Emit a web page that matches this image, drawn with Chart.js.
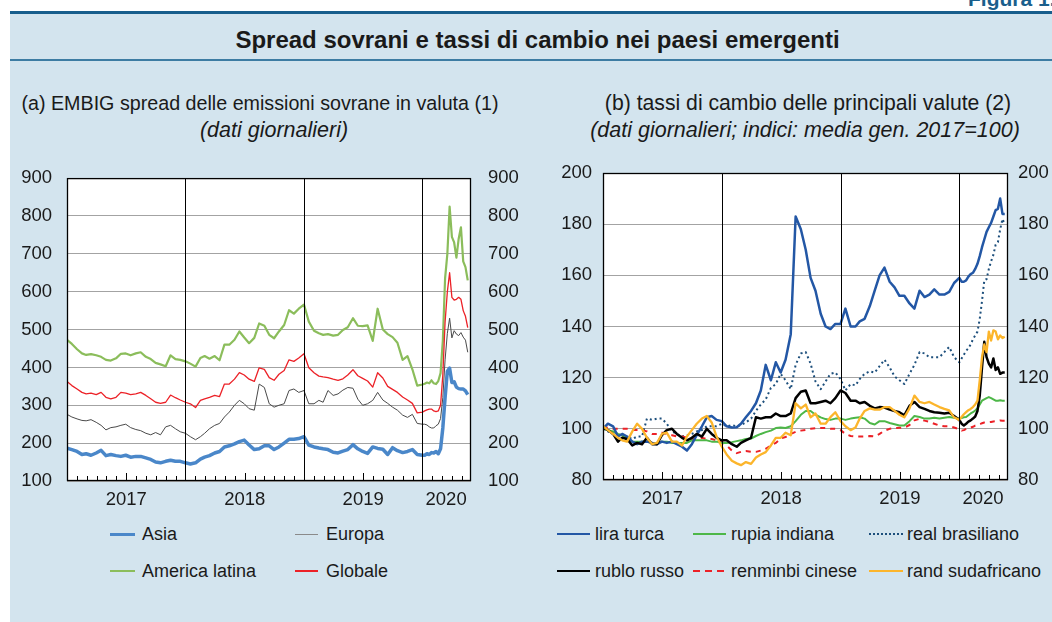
<!DOCTYPE html>
<html>
<head>
<meta charset="utf-8">
<script src="https://cdn.jsdelivr.net/npm/chart.js@4.4.1/dist/chart.umd.min.js"></script>
<style>
  body { margin: 0; width: 1052px; height: 622px; overflow: hidden; position: relative; background: #fff;
         font-family: 'Liberation Sans', Arial, sans-serif; color: #1a1a1a; }
  .abs { position: absolute; }
  #bg { left: 10px; top: 13px; width: 1042px; height: 609px; background: #d3e4ee; }
  #topline { left: 10px; top: 11px; width: 1042px; height: 2.5px; background: #175e8c; }
  #tline { left: 10px; top: 59px; width: 1042px; height: 2px; background: #3d7ca3; }
  #fig { left: 968px; top: -13px; font-weight: bold; font-size: 21px; color: #1b5f8c; white-space: nowrap; }
  #title { left: 0; width: 1075px; top: 27px; text-align: center; font-weight: bold; font-size: 24px; line-height: 26px; }
  .sub { line-height: 22px; text-align: center; white-space: nowrap; }
  .it { font-style: italic; }
  canvas { position: absolute; }
  .leg { position: absolute; height: 22px; display: flex; align-items: center; font-size: 18px; white-space: nowrap; }
  .leg i { display: inline-block; }
</style>
</head>
<body>
<div id="bg" class="abs"></div>
<div id="topline" class="abs"></div>
<div id="fig" class="abs">Figura 1.</div>
<div id="title" class="abs">Spread sovrani e tassi di cambio nei paesi emergenti</div>
<div id="tline" class="abs"></div>

<div class="abs sub" style="left:0;width:520px;top:92px;font-size:19.7px">(a) EMBIG spread delle emissioni sovrane in valuta (1)</div>
<div class="abs sub it" style="left:0;width:548px;top:119px;font-size:21.5px">(dati giornalieri)</div>
<div class="abs sub" style="left:508px;width:600px;top:92px;font-size:21.2px">(b) tassi di cambio delle principali valute (2)</div>
<div class="abs sub it" style="left:505px;width:600px;top:119px;font-size:21.5px">(dati giornalieri; indici: media gen. 2017=100)</div>

<canvas id="chartA" width="530" height="370" style="left:0;top:150px"></canvas>
<canvas id="chartB" width="522" height="370" style="left:530px;top:150px"></canvas>

<div class="leg" style="left:110px;top:523px"><i style="width:25px;height:3px;background:#4a87c9;margin-right:7px"></i>Asia</div>
<div class="leg" style="left:295px;top:523px"><i style="width:23px;height:1px;background:#8a8a8a;margin-right:8px"></i>Europa</div>
<div class="leg" style="left:110px;top:560px"><i style="width:25px;height:1.5px;background:#8bbd5b;margin-right:7px"></i>America latina</div>
<div class="leg" style="left:295px;top:560px"><i style="width:23px;height:1.5px;background:#ec2127;margin-right:8px"></i>Globale</div>

<div class="leg" style="left:557px;top:523px"><i style="width:33px;height:2.5px;background:#2357a5;margin-right:5px"></i>lira turca</div>
<div class="leg" style="left:693px;top:523px"><i style="width:33px;height:2.5px;background:#4db748;margin-right:5px"></i>rupia indiana</div>
<div class="leg" style="left:869px;top:523px"><i style="width:34px;height:2px;background:repeating-linear-gradient(90deg,#1d4f7c 0 2px,transparent 2px 4px);margin-right:4px"></i>real brasiliano</div>
<div class="leg" style="left:557px;top:560px"><i style="width:33px;height:2.5px;background:#000;margin-right:5px"></i>rublo russo</div>
<div class="leg" style="left:693px;top:560px"><i style="width:33px;height:2.5px;background:repeating-linear-gradient(90deg,#ec2127 0 7px,transparent 7px 12px);margin-right:5px"></i>renminbi cinese</div>
<div class="leg" style="left:869px;top:560px"><i style="width:34px;height:2.5px;background:#fcb52b;margin-right:4px"></i>rand sudafricano</div>

<script>
// half-monthly observations 2017-2019, weekly in 2020
const dates = [
  '2017-01-01','2017-01-16','2017-02-01','2017-02-16','2017-03-01','2017-03-16','2017-04-01','2017-04-16',
  '2017-05-01','2017-05-16','2017-06-01','2017-06-16','2017-07-01','2017-07-16','2017-08-01','2017-08-16',
  '2017-09-01','2017-09-16','2017-10-01','2017-10-16','2017-11-01','2017-11-16','2017-12-01','2017-12-16',
  '2018-01-01','2018-01-16','2018-02-01','2018-02-16','2018-03-01','2018-03-16','2018-04-01','2018-04-16',
  '2018-05-01','2018-05-16','2018-06-01','2018-06-16','2018-07-01','2018-07-16','2018-08-01','2018-08-16',
  '2018-09-01','2018-09-16','2018-10-01','2018-10-16','2018-11-01','2018-11-16','2018-12-01','2018-12-16',
  '2019-01-01','2019-01-16','2019-02-01','2019-02-16','2019-03-01','2019-03-16','2019-04-01','2019-04-16',
  '2019-05-01','2019-05-16','2019-06-01','2019-06-16','2019-07-01','2019-07-16','2019-08-01','2019-08-16',
  '2019-09-01','2019-09-16','2019-10-01','2019-10-16','2019-11-01','2019-11-16','2019-12-01','2019-12-16',
  '2020-01-01','2020-01-08','2020-01-15','2020-01-22','2020-01-29','2020-02-05','2020-02-12','2020-02-19',
  '2020-02-26','2020-03-04','2020-03-11','2020-03-18','2020-03-25','2020-04-01','2020-04-08','2020-04-15',
  '2020-04-22','2020-04-29','2020-05-06','2020-05-13','2020-05-20'
];

// (a) EMBIG spreads, basis points
const asia = [
  187,183,178,170,172,168,174,181,167,170,167,165,168,163,165,165,161,157,150,148,152,155,152,152,
  148,145,148,158,163,167,174,178,190,193,198,204,208,195,183,185,193,193,183,190,200,210,210,212,
  217,195,190,187,185,183,176,174,179,183,196,185,178,173,190,186,184,170,188,180,175,178,183,170,
  168,168,172,170,175,174,178,172,185,240,320,390,398,360,362,348,344,343,343,338,328
];
const europa = [
  276,269,264,260,259,262,255,247,235,241,243,247,250,241,236,233,226,222,228,222,243,247,238,230,
  226,217,209,217,226,238,247,252,269,282,300,313,304,291,287,356,347,304,295,300,304,339,343,334,
  339,304,304,313,308,339,326,330,340,347,345,316,300,304,313,334,314,305,295,287,274,268,276,252,
  250,250,248,243,240,240,246,250,265,320,420,490,530,478,497,488,484,492,480,472,440
];
const americaLatina = [
  473,462,448,437,433,435,432,428,420,418,424,436,437,432,437,440,428,422,412,408,403,432,422,420,
  416,410,402,425,430,423,430,419,460,460,473,495,479,464,478,516,510,486,477,495,512,551,542,555,
  566,521,497,490,486,488,484,486,499,506,530,510,509,511,470,555,500,488,480,465,420,430,395,352,
  355,357,360,358,366,358,356,364,385,470,635,700,825,745,730,690,740,770,680,665,630
];
const globale = [
  363,352,343,334,330,332,328,334,321,317,321,334,332,328,330,334,326,317,308,305,308,327,320,314,
  308,304,294,313,317,321,326,323,356,356,369,386,380,369,363,399,395,373,366,382,392,420,416,425,
  436,399,386,377,375,373,369,366,370,380,394,378,371,364,348,386,372,350,342,334,322,314,305,280,
  282,285,288,290,290,285,283,285,300,380,520,600,650,585,578,580,585,580,550,535,505
];

// (b) exchange rates, index Jan 2017 = 100
const liraTurca = [
  100,102,101,97,98,97,95,94,95,95,94.5,94,95,94.5,95,94,93,91.5,94,97.5,101,104.5,105,103.5,
  103,101,100.5,100.6,102,104.5,107,110,115,125,119,126,122,127,137,183,178,170,159,154,145,140,139,141,
  141,147,140,140,142,143,148,154,160,163,157.5,155.3,152,152,149,147,154,151.5,152.5,154.5,152.5,152.5,153.5,157,
  159,157.5,157.5,158,159.5,160.5,161,162.5,164.5,167.5,171,174,177,178.8,180.5,183,185.5,186,190,184,184
];
const rupiaIndiana = [
  100,99.5,99,98,97.5,96,95,95,95,95,94.5,94.5,95,95,94.5,94.5,94.5,94.5,95.5,95.5,95.5,95.5,95,95,
  94.5,94.5,94.8,95.2,95.5,96,96.2,97.2,98,98.7,99.3,100.3,100.5,100.3,101,103,105.5,107,107,105.5,104.5,103.8,103.5,104,
  104,103.5,104,104.3,104.5,104,102.3,101.7,103,103,102.3,101.8,101.3,101.3,103,105,104.6,104,104,104.3,104,104.3,104.6,104.3,
  104,104.2,104.5,104.6,105.3,106,106.5,107.2,108,109.5,111,111.5,112,112.4,112,111.5,111,111,111.2,111,111
];
const realBrasiliano = [
  100,99,98,97,96,97,96,97,97,104,103.5,104,104,102,99,98,97,97.5,98,99,99.5,101,101,101,
  102,101,101.5,101,101.5,102.5,104,107,109.5,111.5,116,117.5,121.5,119,115.5,125,129.5,130,125.5,118.5,115.5,118.5,121.5,122,
  119.5,115,117.5,117,119.5,121.5,122.5,122,124.5,127,124,120.5,119,117.5,121.5,125,130,129.5,128,128,128,130,132,128,
  126,127.5,129,130.5,131.5,133,135,136.5,138,143,150,158,158.5,162.5,165.5,168,172,173,178,182,180
];
const rubloRusso = [
  100.5,99.5,98,95,96.5,96,93.5,94.5,94,96.5,94,94,97.5,99.5,100,98,96.5,95.5,96.5,98,97,100,98,96.5,
  95.5,95.5,94,93,94.5,95.5,96.5,104.5,104,104.5,104.5,106,105,105,106,112,114.5,115,110,110,110.5,111,110,112,
  115,114,111,111,110,110.5,109,108,108.5,108.3,107.5,107,106.5,105.3,109,110.5,108.5,107.8,107,106.5,106.3,106,106.3,105,
  103.5,102,101.3,102,102.8,103.3,104,104.8,107,113,124,134,128,125.5,124,127.5,123,124,121.5,122,122
];
const renminbiCinese = [
  100,100.5,100,100,100,100,99.5,99.5,99.5,99,98,98,98.5,98,97.5,97,97,96.5,96,96,96.5,96,96,95.5,
  95,93.5,91.5,90.5,91,91.3,91,91,91.5,92.2,93.5,94.5,96.2,96.8,98,98.8,99.3,99.6,100,100.2,100.3,100.3,100,100,
  99.5,98,97.2,97,97,97,97.2,97,98,99.3,100,100.3,100.4,100.5,101.5,103.3,103.9,103.2,102.7,102,101.3,101,101,100.5,
  99.8,99.3,99.5,100,100.5,100.5,100.8,101.3,101.5,101.8,102.2,102.5,102.6,102.6,102.7,102.9,103,103.1,103.3,103.2,103.2
];
const randSudafricano = [
  101,99.5,98,96.5,95.5,95,99,102,100,96.5,94,94.5,98,98.5,95,95,93.5,97,99.5,102,104,105,102.5,97,
  93,90,87.5,86.5,85.8,87,86.3,88.8,90,90.9,93.5,96.5,96.5,98.5,97.5,110,108,109.5,104.5,106,102,102,104.6,106.5,
  103,101,99.5,100.5,104,107,108,107.5,107.5,108.5,108.5,107,105.5,104.5,108,113,110.5,110,110.5,109.5,108.5,107.8,107.2,104.5,
  103.5,104.6,105.7,106.5,107.3,107.8,108.5,109.5,111,119,128,133,130,138,134.5,138.5,138,135,136.5,135.5,136
];

const xLabels = ['2017', '2018', '2019', '2020'];
const xLabelAt = [2017.5, 2018.5, 2019.5, 2020.2];
const yearLines = [2018, 2019, 2020];
const X_MIN = 2017, X_MAX = 2020.41;

function toYear(s) {
  const [y, m, d] = s.split('-').map(Number);
  const a = Date.UTC(y, 0, 1), b = Date.UTC(y + 1, 0, 1);
  return y + (Date.UTC(y, m - 1, d) - a) / (b - a);
}
const T = dates.map(toYear);
const pts = vals => vals.map((v, i) => ({ x: T[i], y: v }));

Chart.defaults.font.family = "'Liberation Sans', Arial, sans-serif";
Chart.defaults.color = '#1a1a1a';

const axisDeco = {
  id: 'axisDeco',
  beforeDraw(chart) {
    const { ctx, chartArea: a } = chart;
    ctx.save();
    ctx.fillStyle = '#fff';
    ctx.fillRect(a.left, a.top, a.width, a.height);
    ctx.restore();
  },
  afterDatasetsDraw(chart) {
    const { ctx, chartArea: a, scales: { x } } = chart;
    ctx.save();
    ctx.strokeStyle = '#000';
    ctx.lineWidth = 1;
    ctx.beginPath();
    yearLines.forEach(v => {
      const px = Math.round(x.getPixelForValue(v)) + 0.5;
      ctx.moveTo(px, a.top); ctx.lineTo(px, a.bottom);
    });
    for (let yr = 2017; yr <= 2020; yr++) {
      for (let m = 1; m < 12; m++) {
        const v = yr + m / 12;
        if (v >= X_MAX) continue;
        const px = Math.round(x.getPixelForValue(v)) + 0.5;
        ctx.moveTo(px, a.bottom);
        ctx.lineTo(px, a.bottom - (m === 6 ? 8 : 5));
      }
    }
    ctx.stroke();
    ctx.lineWidth = 1.3;
    ctx.strokeRect(a.left + 0.5, a.top + 0.5, a.width - 1, a.height - 1);
    ctx.restore();
  }
};

function makeChart(id, series, o) {
  const tickFont = { size: 18.5 };
  return new Chart(document.getElementById(id), {
    type: 'line',
    data: {
      datasets: series.map(s => ({
        label: s.label,
        data: pts(s.data),
        borderColor: s.color,
        borderWidth: s.width,
        borderDash: s.dash || [],
        pointRadius: 0,
        tension: 0,
        borderJoinStyle: 'round',
        order: s.order
      }))
    },
    options: {
      responsive: false,
      animation: false,
      layout: { padding: { top: o.padTop, left: 0, right: 0, bottom: 0 } },
      plugins: { legend: { display: false }, tooltip: { enabled: false } },
      scales: {
        x: {
          type: 'linear', min: X_MIN, max: X_MAX,
          grid: { display: false, drawTicks: false }, border: { display: false },
          afterBuildTicks: s => { s.ticks = xLabelAt.map(v => ({ value: v })); },
          ticks: { font: tickFont, padding: 8, maxRotation: 0, autoSkip: false,
                   callback: (v, i) => xLabels[i] },
          afterFit: s => { s.height = o.xH; }
        },
        y: {
          position: 'left', min: o.min, max: o.max,
          ticks: { stepSize: o.step, font: tickFont, padding: o.padL },
          grid: { color: '#a3a3a3', lineWidth: 1, drawTicks: false },
          border: { display: false },
          afterFit: s => { s.width = o.leftW; }
        },
        y2: {
          position: 'right', min: o.min, max: o.max,
          ticks: { stepSize: o.step, font: tickFont, padding: o.padR },
          grid: { display: false, drawTicks: false }, border: { display: false },
          afterFit: s => { s.width = o.rightW; }
        }
      }
    },
    plugins: [axisDeco]
  });
}

makeChart('chartA', [
  { label: 'Asia', data: asia, color: '#4a87c9', width: 3.5, order: 0 },
  { label: 'Globale', data: globale, color: '#ec2127', width: 1.3, order: 1 },
  { label: 'Europa', data: europa, color: '#4a4a4a', width: 1, order: 2 },
  { label: 'America latina', data: americaLatina, color: '#8bbd5b', width: 2.2, order: 3 }
], { min: 100, max: 900, step: 100, leftW: 67, rightW: 59, padTop: 24, xH: 39, padL: 15, padR: 17 });

makeChart('chartB', [
  { label: 'rand sudafricano', data: randSudafricano, color: '#fcb52b', width: 2.3, order: 0 },
  { label: 'rublo russo', data: rubloRusso, color: '#000', width: 2.5, order: 1 },
  { label: 'lira turca', data: liraTurca, color: '#2357a5', width: 2.5, order: 2 },
  { label: 'rupia indiana', data: rupiaIndiana, color: '#4db748', width: 2, order: 3 },
  { label: 'renminbi cinese', data: renminbiCinese, color: '#ec2127', width: 2, dash: [5, 5], order: 4 },
  { label: 'real brasiliano', data: realBrasiliano, color: '#1d4f7c', width: 2, dash: [2, 3], order: 5 }
], { min: 80, max: 200, step: 20, leftW: 73, rightW: 44, padTop: 23, xH: 40, padL: 11, padR: 10 });
</script>
</body>
</html>
